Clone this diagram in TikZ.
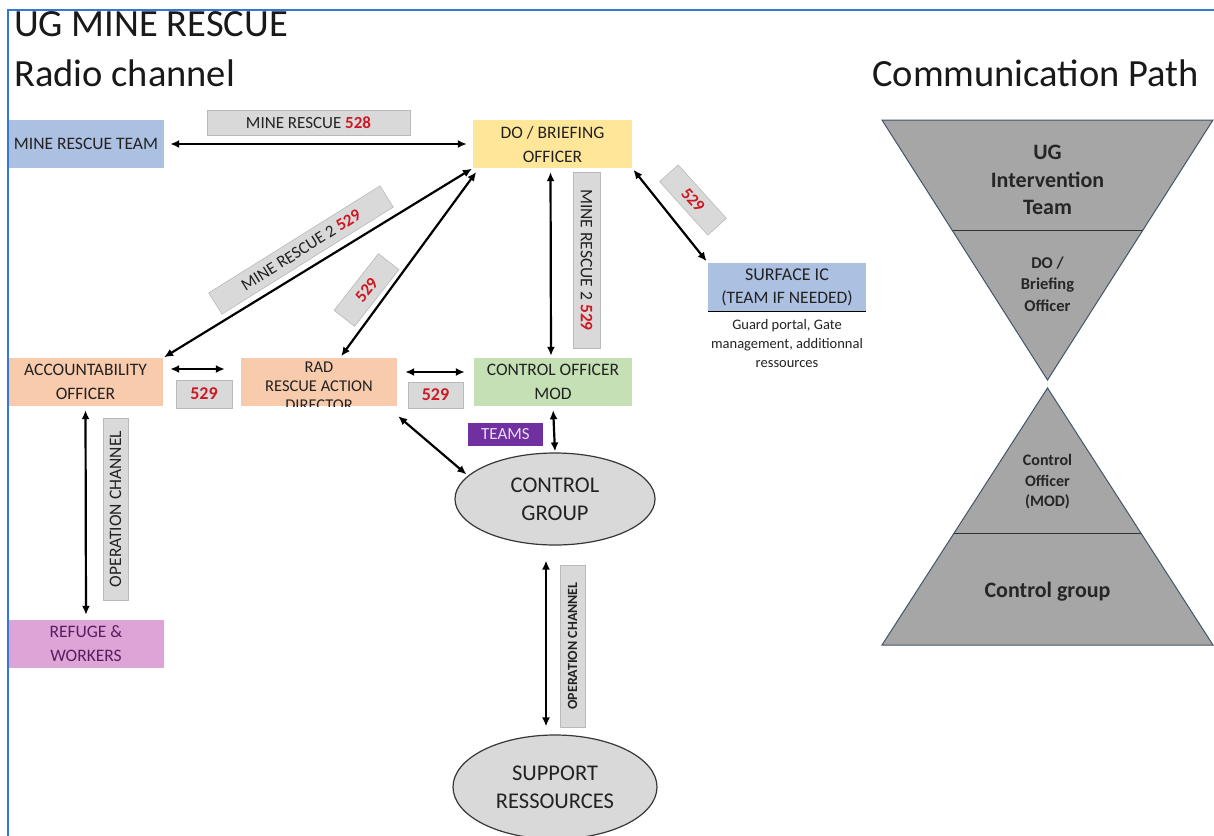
\documentclass[tikz,border=0pt]{standalone}
\usepackage{fontspec}
\setmainfont{Carlito}
\usetikzlibrary{arrows.meta,shapes.geometric}
\definecolor{frameblue}{RGB}{52,120,215}
\definecolor{txt}{RGB}{34,34,34}
\definecolor{bluebox}{RGB}{172,192,226}
\definecolor{yellowbox}{RGB}{255,230,153}
\definecolor{peachbox}{RGB}{248,203,173}
\definecolor{greenbox}{RGB}{197,224,180}
\definecolor{pinkbox}{RGB}{222,164,216}
\definecolor{pinktxt}{RGB}{85,30,95}
\definecolor{lblgray}{RGB}{217,217,217}
\definecolor{lblborder}{RGB}{185,185,185}
\definecolor{redtxt}{RGB}{205,25,35}
\definecolor{teamsfill}{RGB}{112,48,160}
\definecolor{teamstxt}{RGB}{232,220,245}
\definecolor{ellfill}{RGB}{217,217,217}
\definecolor{elledge}{RGB}{55,55,55}
\definecolor{hgfill}{RGB}{166,166,166}
\definecolor{hgedge}{RGB}{70,84,106}
\newcommand\myfs[2]{\fontsize{#1}{#2}\selectfont}
\newcommand\rn[1]{\textcolor{redtxt}{\textbf{#1}}}
\tikzset{
  boxnode/.style={rectangle, inner sep=0pt, minimum height=48pt, align=center, text=txt, font=\myfs{17.5}{24}},
  lblnode/.style={rectangle, fill=lblgray, draw=lblborder, line width=0.6pt, inner sep=0pt, align=center, text=txt, font=\myfs{17}{20}},
  ellnode/.style={ellipse, fill=ellfill, draw=elledge, line width=1.2pt, inner sep=0pt, align=center, text=txt, font=\myfs{22.5}{28}},
  arr/.style={{Latex[length=9pt,width=8pt]}-{Latex[length=9pt,width=8pt]}, line width=2.2pt, black},
  hgtext/.style={align=center, text=black!85, inner sep=0pt}
}
\begin{document}
\begin{tikzpicture}[x=1pt,y=-1pt]
\useasboundingbox (0,0) rectangle (1214,835);
\clip (0,0) rectangle (1214,835);
\fill[white] (0,0) rectangle (1214,835);

% titles
\node[anchor=base west, inner sep=0pt, text=black!90, font=\myfs{38.5}{40}] (title) at (14,36) {UG MINE RESCUE};
\node[anchor=base west, inner sep=0pt, text=black!90, font=\myfs{38.5}{40}] (radio) at (14,86) {Radio channel};
\node[anchor=base west, inner sep=0pt, text=black!90, font=\myfs{38.5}{40}] (commpath) at (872,86) {Communication Path};

% boxes
\node[boxnode, fill=bluebox, minimum width=156pt] (mrt) at (86,144) {MINE RESCUE TEAM};
\node[boxnode, fill=yellowbox, minimum width=159pt] (do) at (552.5,144) {DO / BRIEFING\\OFFICER};
\node[boxnode, fill=bluebox, minimum width=158pt, font=\myfs{18}{23}] (surf) at (787,287) {SURFACE IC\\{\myfs{17.5}{23}(TEAM IF NEEDED)}};
\draw[black, line width=1.3pt] (surf.south west) -- (surf.south east);
\node[align=center, anchor=north, inner sep=0pt, text=txt, font=\myfs{14.5}{19}] (guard) at (787,319) {Guard portal, Gate\\management, additionnal\\ressources};
\node[boxnode, fill=peachbox, minimum width=155pt] (ao) at (85.5,382) {ACCOUNTABILITY\\OFFICER};
\node[boxnode, fill=peachbox, minimum width=156pt] (rad) at (319,382) {};
\begin{scope}
\clip (rad.south west) rectangle (rad.north east);
\node[align=center, inner sep=0pt, text=txt, font=\myfs{16.5}{19}] (radtext) at (319,386) {RAD\\RESCUE ACTION\\DIRECTOR};
\end{scope}
\node[boxnode, fill=greenbox, minimum width=158pt] (co) at (553,382) {CONTROL OFFICER\\MOD};
\node[boxnode, fill=pinkbox, minimum width=156pt, text=pinktxt] (ref) at (86,644) {REFUGE \&\\WORKERS};

% ellipses
\node[ellnode, minimum width=200pt, minimum height=92pt] (cg) at (555,499) {CONTROL\\GROUP};
\node[ellnode, minimum width=204pt, minimum height=104pt] (sup) at (555,787) {SUPPORT\\RESSOURCES};

% teams
\node[rectangle, fill=teamsfill, inner sep=0pt, minimum width=75pt, minimum height=23pt, text=teamstxt, font=\myfs{17}{18}] (teams) at (505.5,434.5) {TEAMS};

% labels
\node[lblnode, minimum width=203pt, minimum height=25pt] (l528) at (308.5,123) {MINE RESCUE \rn{528}};
\node[lblnode, minimum width=176pt, minimum height=27pt, rotate=-90, font=\myfs{17.5}{20}] (lvert) at (586.5,260) {MINE RESCUE 2 \rn{529}};
\node[lblnode, minimum width=202pt, minimum height=25pt, rotate=32] (ldiag) at (301,250) {MINE RESCUE 2 \rn{529}};
\node[lblnode, minimum width=72pt, minimum height=26pt, rotate=52] (lrad) at (366.5,290) {\rn{529}};
\node[lblnode, minimum width=72pt, minimum height=25pt, rotate=-48] (lsurf) at (693,200) {\rn{529}};
\node[lblnode, minimum width=56pt, minimum height=28pt, font=\myfs{18}{20}] (la) at (204,394) {\rn{529}};
\node[lblnode, minimum width=55pt, minimum height=26pt, font=\myfs{18}{20}] (lb) at (435.5,395) {\rn{529}};
\node[lblnode, minimum width=182pt, minimum height=25pt, rotate=90, font=\myfs{17.5}{18}] (lopa) at (115.5,509) {OPERATION CHANNEL};
\node[lblnode, minimum width=162pt, minimum height=25pt, rotate=90, font=\bfseries\myfs{14}{15}] (lopb) at (572.5,646) {OPERATION CHANNEL};

% connectors
\draw[arr, shorten <=6pt, shorten >=6pt] (mrt) -- (do);
\draw[arr, shorten <=1pt, shorten >=1pt] (ao.north east) -- (do.south west);
\draw[arr, shorten <=2pt, shorten >=1pt] ([xshift=21pt]rad.north) -- ([xshift=4pt,yshift=-3pt]do.south west);
\draw[arr, shorten <=4pt, shorten >=2pt] ([xshift=-2pt]do.south) -- ([xshift=-2pt]co.north);
\draw[arr, shorten <=2pt, shorten >=2pt] (do.south east) -- (surf.north west);
\draw[arr, shorten <=7pt, shorten >=16pt] ([yshift=13pt]ao.east) -- ([yshift=13pt]rad.west);
\draw[arr, shorten <=8pt, shorten >=9pt] ([yshift=10pt]rad.east) -- ([yshift=10pt]co.west);
\draw[arr, shorten <=4pt, shorten >=1pt] (co.south) -- (cg.north);
\draw[arr, shorten <=0pt, shorten >=2pt] ([shift={(1pt,-10pt)}]rad.south east) -- (cg.165);
\draw[arr, shorten <=4pt, shorten >=5pt] (ao.south) -- (ref.north);
\draw[arr, shorten <=15pt, shorten >=8pt] ([xshift=-9pt]cg.south) -- ([xshift=-9pt]sup.north);

% hourglass
\filldraw[fill=hgfill, draw=hgedge, line width=1pt] (882,120) -- (1213,120) -- (1047.5,380) -- cycle;
\draw[black!80, line width=1pt] (952.5,230) -- (1142.5,230);
\filldraw[fill=hgfill, draw=hgedge, line width=1pt] (1047.5,388) -- (1213,645) -- (882,645) -- cycle;
\draw[black!80, line width=1pt] (954,533) -- (1141,533);
\node[hgtext, font=\bfseries\myfs{22}{27.5}] (ugit) at (1047.5,180) {UG\\Intervention\\Team};
\node[hgtext, font=\bfseries\myfs{16.5}{21.5}] (dobo) at (1047.5,284) {DO /\\Briefing\\Officer};
\node[hgtext, font=\bfseries\myfs{16}{20.5}] (coh) at (1047.5,482) {Control\\Officer\\(MOD)};
\node[hgtext, font=\bfseries\myfs{22}{24}] (cgh) at (1047.5,592) {Control group};

% frame
\fill[white] (0,0) rectangle (1214,9.3);
\draw[frameblue, line width=1.6pt] (8,840) -- (8,10) -- (1216,10);
\end{tikzpicture}
\end{document}
